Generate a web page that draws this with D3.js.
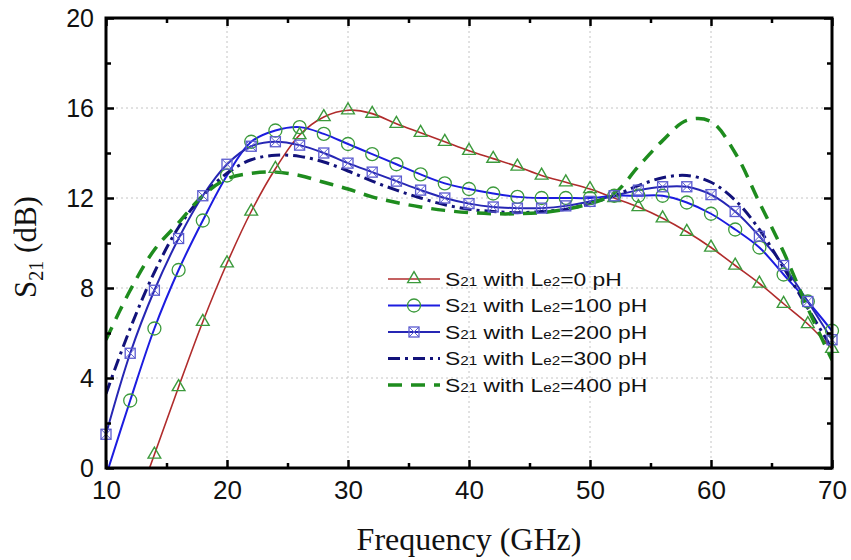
<!DOCTYPE html>
<html lang="en">
  <head>
    <meta charset="utf-8">
    <title>S21 vs Frequency</title>
    <script src="https://cdnjs.cloudflare.com/ajax/libs/d3/7.8.5/d3.min.js"></script>
    <style>
      body { margin: 0; background: #fff; }
      .tick-label { font-family: "Liberation Sans", Arial, sans-serif; font-size: 25px; fill: #111; }
      .axis-title { font-family: "Liberation Serif", "Times New Roman", serif; fill: #111; }
      .legend-text { font-family: "Liberation Sans", Arial, sans-serif; font-size: 18px; fill: #111; }
    </style>
  </head>
  <body>
    <script>
    // frequency points (GHz) and S21 (dB)
    const freq = [10,12,14,16,18,20,22,24,26,28,30,32,34,36,38,40,42,44,46,48,50,52,54,56,58,60,62,64,66,68,70];
    const s21_0pH   = [-5.6,-2.4,0.6,3.6,6.5,9.1,11.4,13.3,14.8,15.6,15.9,15.75,15.3,14.9,14.5,14.1,13.75,13.4,13.0,12.7,12.4,12.0,11.6,11.1,10.5,9.8,9.0,8.2,7.3,6.4,5.3];
    const s21_100pH = [-0.35,3.0,6.2,8.8,11.0,13.0,14.5,15.0,15.15,14.85,14.4,13.95,13.5,13.05,12.65,12.4,12.2,12.05,12.0,12.0,12.0,12.1,12.1,12.1,11.8,11.3,10.6,9.8,8.6,7.4,6.1];
    const s21_200pH = [1.5,5.1,7.9,10.2,12.1,13.5,14.3,14.5,14.35,14.0,13.55,13.15,12.75,12.35,12.0,11.75,11.6,11.55,11.55,11.65,11.85,12.1,12.35,12.5,12.5,12.15,11.4,10.3,9.0,7.4,5.7];
    const s21_300pH = [3.3,6.2,8.7,10.7,12.1,13.1,13.7,13.9,13.85,13.6,13.2,12.75,12.35,12.0,11.7,11.5,11.4,11.35,11.4,11.5,11.75,12.1,12.55,12.9,13.0,12.7,11.9,10.6,8.9,7.1,5.3];
    const s21_400pH = [5.7,7.9,9.7,10.9,12.1,12.85,13.1,13.15,13.0,12.7,12.4,12.05,11.8,11.6,11.45,11.35,11.3,11.3,11.35,11.5,11.75,12.2,13.4,14.55,15.45,15.4,14.0,11.8,9.6,7.1,4.8];
    const legendValues = ["0", "100", "200", "300", "400"];
    const xMajor = [10,20,30,40,50,60,70];
    const xMinor = [15,25,35,45,55,65];
    const yMajor = [0,4,8,12,16,20];
    const yMinor = [2,6,10,14,18];

    const W = 851, H = 560;
    const margin = {left: 106, right: 19, top: 18, bottom: 92};

    const series = [
      {vals: s21_0pH,   color: "#b02c2c", width: 1.6, dash: null,          marker: "tri"},
      {vals: s21_100pH, color: "#1c1ce0", width: 2,   dash: null,          marker: "circ"},
      {vals: s21_200pH, color: "#2626b4", width: 2,   dash: null,          marker: "sq"},
      {vals: s21_300pH, color: "#12127a", width: 3,   dash: "12,5,3,5",    marker: null},
      {vals: s21_400pH, color: "#1e8c1e", width: 3.5, dash: "14,9",        marker: null}
    ];

    const svg = d3.select("body").append("svg")
      .attr("width", W).attr("height", H);

    const x = d3.scaleLinear().domain([10, 70]).range([margin.left, W - margin.right]);
    const y = d3.scaleLinear().domain([0, 20]).range([H - margin.bottom, margin.top]);

    // grid
    const grid = svg.append("g").attr("stroke", "#c4c4c4").attr("stroke-width", 1).attr("stroke-dasharray", "2,3");
    grid.selectAll("line.gx").data(xMajor.slice(1, -1)).enter().append("line")
      .attr("x1", d => x(d)).attr("x2", d => x(d)).attr("y1", y(0)).attr("y2", y(20));
    grid.selectAll("line.gy").data(yMajor.slice(1, -1)).enter().append("line")
      .attr("y1", d => y(d)).attr("y2", d => y(d)).attr("x1", x(10)).attr("x2", x(70));

    // clip for the curves
    svg.append("clipPath").attr("id", "plot-clip").append("rect")
      .attr("x", x(10)).attr("y", y(20)).attr("width", x(70) - x(10)).attr("height", y(0) - y(20));

    const line = d3.line()
      .x((d, i) => x(freq[i]))
      .y(d => y(d))
      .curve(d3.curveCatmullRom.alpha(0.5));

    const curves = svg.append("g").attr("clip-path", "url(#plot-clip)");
    series.forEach(s => {
      curves.append("path")
        .attr("d", line(s.vals))
        .attr("fill", "none")
        .attr("stroke", s.color)
        .attr("stroke-width", s.width)
        .attr("stroke-dasharray", s.dash);
    });

    const markerGreen = "#3c9a3c";
    function drawMarker(g, type, cx, cy) {
      if (type === "tri") {
        g.append("path").attr("d", d3.symbol(d3.symbolTriangle, 70)())
          .attr("transform", "translate(" + cx + "," + cy + ")")
          .attr("fill", "none").attr("stroke", markerGreen).attr("stroke-width", 1.4);
      } else if (type === "circ") {
        g.append("circle").attr("cx", cx).attr("cy", cy).attr("r", 6.5)
          .attr("fill", "none").attr("stroke", markerGreen).attr("stroke-width", 1.3);
      } else if (type === "sq") {
        const h = 5;
        g.append("rect").attr("x", cx - h).attr("y", cy - h).attr("width", 2 * h).attr("height", 2 * h)
          .attr("fill", "none").attr("stroke", "#5b5bd0").attr("stroke-width", 1.3);
        g.append("path").attr("d", "M" + (cx - h) + "," + (cy - h) + "L" + (cx + h) + "," + (cy + h) +
            "M" + (cx + h) + "," + (cy - h) + "L" + (cx - h) + "," + (cy + h))
          .attr("stroke", "#5b5bd0").attr("stroke-width", 1);
      }
    }

    const marks = svg.append("g");
    series.forEach(s => {
      if (!s.marker) return;
      s.vals.forEach((v, i) => {
        if (v < 0 || v > 20) return;
        drawMarker(marks, s.marker, x(freq[i]), y(v));
      });
    });

    // frame
    svg.append("rect")
      .attr("x", x(10)).attr("y", y(20))
      .attr("width", x(70) - x(10)).attr("height", y(0) - y(20))
      .attr("fill", "none").attr("stroke", "#000").attr("stroke-width", 3);

    // ticks pointing inward on all four sides
    function ticks(axisFn, scale, vals, size, transform, labels) {
      const ax = axisFn(scale).tickValues(vals).tickSizeInner(-size).tickSizeOuter(0).tickPadding(12);
      if (!labels) ax.tickFormat("");
      const g = svg.append("g").attr("transform", transform).call(ax);
      g.select(".domain").remove();
      g.selectAll(".tick line").attr("stroke", "#000").attr("stroke-width", 2.5);
      g.selectAll(".tick text").attr("class", "tick-label").attr("fill", "#111");
      return g;
    }
    ticks(d3.axisBottom, x, xMajor, 8, "translate(0," + y(0) + ")", true)
      .selectAll("text").attr("dy", null).attr("y", 31).style("font-size", "26px");
    ticks(d3.axisBottom, x, xMinor, 5, "translate(0," + y(0) + ")", false);
    ticks(d3.axisTop, x, xMajor, 8, "translate(0," + y(20) + ")", false);
    ticks(d3.axisTop, x, xMinor, 5, "translate(0," + y(20) + ")", false);
    ticks(d3.axisLeft, y, yMajor, 8, "translate(" + x(10) + ",0)", true);
    ticks(d3.axisLeft, y, yMinor, 5, "translate(" + x(10) + ",0)", false);
    ticks(d3.axisRight, y, yMajor, 8, "translate(" + x(70) + ",0)", false);
    ticks(d3.axisRight, y, yMinor, 5, "translate(" + x(70) + ",0)", false);

    // axis titles
    svg.append("text").attr("class", "axis-title")
      .attr("x", (x(10) + x(70)) / 2).attr("y", 550)
      .attr("text-anchor", "middle").style("font-size", "32px")
      .text("Frequency (GHz)");

    const yt = svg.append("text").attr("class", "axis-title")
      .attr("transform", "translate(36," + ((y(0) + y(20)) / 2 + 4) + ") rotate(-90)")
      .attr("text-anchor", "middle").style("font-size", "31px");
    yt.append("tspan").text("S");
    yt.append("tspan").attr("dy", 7).style("font-size", "20px").text("21");
    yt.append("tspan").attr("dy", -7).text(" (dB)");

    // legend
    const legend = svg.append("g");
    const legX = 388, legLen = 52, legY0 = 279, legStep = 26.5;
    series.forEach((s, i) => {
      const ly = legY0 + i * legStep;
      legend.append("line")
        .attr("x1", legX).attr("x2", legX + legLen).attr("y1", ly).attr("y2", ly)
        .attr("stroke", s.color).attr("stroke-width", s.width)
        .attr("stroke-dasharray", s.dash);
      if (s.marker) drawMarker(legend, s.marker, legX + legLen / 2, ly);
      const t = legend.append("text").attr("class", "legend-text")
        .attr("transform", "translate(445," + (ly + 6.5) + ") scale(1.27,1)");
      t.append("tspan").text("S");
      t.append("tspan").style("font-size", "12px").text("21");
      t.append("tspan").text(" with L");
      t.append("tspan").style("font-size", "12px").text("e2");
      t.append("tspan").text("=" + legendValues[i] + " pH");
    });
    </script>
  </body>
</html>
